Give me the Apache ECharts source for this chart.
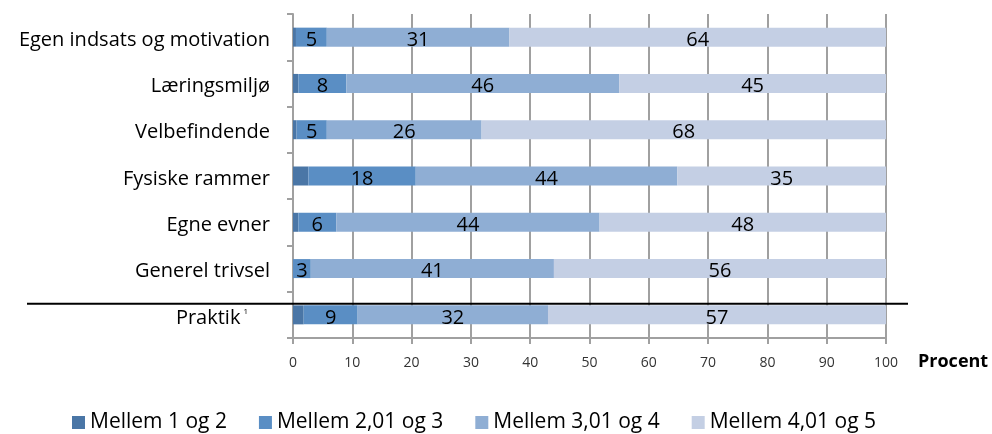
<!DOCTYPE html>
<html>
<head>
<meta charset="utf-8">
<script src="https://cdn.jsdelivr.net/npm/echarts@6/dist/echarts.min.js"></script>
<style>html,body{margin:0;padding:0;background:#fff}#c{width:992px;height:434px}</style>
</head>
<body>
<div id="c"></div>
<script>
const categories = ['Egen indsats og motivation', 'Læringsmiljø', 'Velbefindende', 'Fysiske rammer', 'Egne evner', 'Generel trivsel', 'Praktik'];
const seriesNames = ['Mellem 1 og 2', 'Mellem 2,01 og 3', 'Mellem 3,01 og 4', 'Mellem 4,01 og 5'];
const s1 = [0.5, 0.9, 0.6, 2.6, 0.9, 0, 1.8];
const s2 = [5.2, 8.1, 5.1, 18.1, 6.4, 3, 9.1];
const s3 = [30.8, 46, 26.1, 44.1, 44.4, 41, 32.1];
const s4 = [63.5, 45, 68.2, 35.2, 48.3, 56, 57];
const xTicks = [0, 10, 20, 30, 40, 50, 60, 70, 80, 90, 100];

const colors = ['#4a76a6', '#5a8ec4', '#8faed4', '#c4cfe4'];
const FONT = 'Open Sans';
const chart = echarts.init(document.getElementById('c'));
const allData = [s1, s2, s3, s4];
const option = {
  animation: false,
  textStyle: { fontFamily: FONT },
  grid: { left: 293, right: 106, top: 14, bottom: 96, containLabel: false },
  legend: {
    bottom: 1, left: 72, padding: 0,
    icon: 'rect', itemWidth: 13, itemHeight: 13, itemGap: 32,
    textStyle: { fontFamily: FONT, fontSize: 21, color: '#000' },
    data: seriesNames
  },
  xAxis: {
    type: 'value', min: xTicks[0], max: xTicks[xTicks.length - 1], interval: 10,
    name: 'Procent', nameLocation: 'end', nameGap: 32,
    nameTextStyle: { fontFamily: FONT, fontSize: 18, fontWeight: 'bold', color: '#000', verticalAlign: 'top', padding: [15, 0, 0, 0] },
    axisLine: { show: true, lineStyle: { color: '#a0a0a0', width: 2 } },
    axisTick: { show: true, length: 6, lineStyle: { color: '#a0a0a0', width: 2 } },
    axisLabel: { margin: 18, fontSize: 14, color: '#333', fontFamily: FONT },
    splitLine: { show: true, lineStyle: { color: '#a0a0a0', width: 2 } }
  },
  yAxis: {
    type: 'category', data: categories, inverse: true,
    axisLine: { show: true, lineStyle: { color: '#a0a0a0', width: 2 } },
    axisTick: { show: true, length: 6, lineStyle: { color: '#a0a0a0', width: 2 } },
    axisLabel: {
      margin: 23, fontSize: 20, color: '#000', fontFamily: FONT,
      padding: [6, 0, 0, 0],
      formatter: v => v === 'Praktik' ? 'Praktik{sup|1}{sp|}' : v,
      rich: {
        sup: { fontSize: 8, verticalAlign: 'top', padding: [0, 0, 12, 3], color: '#000', fontFamily: FONT },
        sp: { width: 22 }
      }
    }
  },
  series: seriesNames.map((n, i) => ({
    name: n, type: 'bar', stack: 'total', barWidth: 19,
    data: allData[i],
    itemStyle: { color: colors[i] },
    label: {
      show: i > 0, position: 'inside', color: '#000', fontSize: 20, fontFamily: FONT,
      offset: [0, 3],
      formatter: p => p.value > 0 ? String(Math.round(p.value)) : ''
    }
  }))
};
chart.setOption(option);
const yP = chart.convertToPixel({ yAxisIndex: 0 }, 'Praktik');
const x0 = chart.convertToPixel({ xAxisIndex: 0 }, 0);
const x100 = chart.convertToPixel({ xAxisIndex: 0 }, 100);
const yLine = yP - 11;
chart.setOption({
  graphic: [{
    type: 'line', z: 100,
    shape: { x1: x0 - 266, y1: yLine, x2: x100 + 22, y2: yLine },
    style: { stroke: '#000', lineWidth: 2 }
  }]
});
</script>
</body>
</html>
